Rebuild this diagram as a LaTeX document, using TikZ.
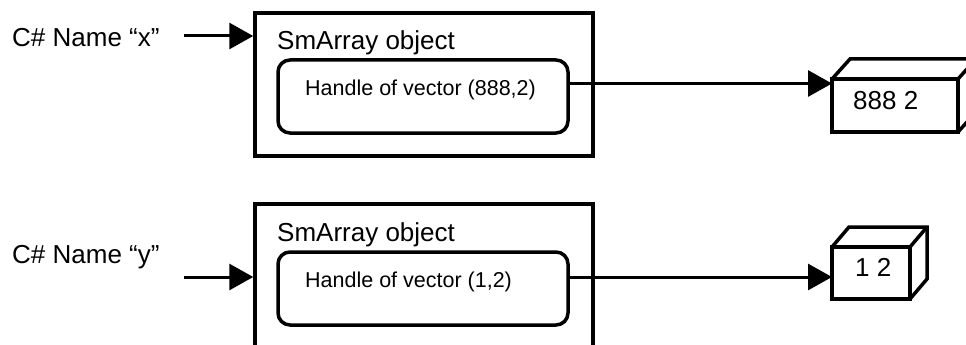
\documentclass[tikz,border=0pt]{standalone}
\usepackage{fontspec}
\setmainfont{Liberation Sans}
\usetikzlibrary{arrows.meta,calc}
\begin{document}
\begin{tikzpicture}[x=1pt,y=-1pt,
  outerbox/.style={draw,line width=3.5pt,minimum width=338pt,inner sep=0pt},
  innerbox/.style={draw,line width=3.5pt,rounded corners=12pt,minimum width=290pt,minimum height=73pt,inner sep=0pt},
  face/.style={draw,line width=3.5pt,inner sep=0pt,outer sep=0pt},
  cubeline/.style={line width=3.5pt,line join=miter},
  arr/.style={line width=3pt,-{Triangle[length=24pt,width=26pt]}},
  big/.style={font=\fontsize{26}{30}\selectfont,inner sep=0pt,anchor=base west},
  small/.style={font=\fontsize{21.5}{25}\selectfont,inner sep=0pt,anchor=base west}]
\useasboundingbox (0,0) rectangle (966,345);
\clip (0,0) rectangle (966,345);
% ---- top row
\node[big] (nx) at (12,47) {C\# Name “x”};
\node[outerbox,minimum height=143pt] (ox) at (424,84.5) {};
\node[big] (tx) at (277,49) {SmArray object};
\node[innerbox] (ix) at (423,96.5) {};
\node[small] (hx) at (305,95) {Handle of vector (888,2)};
\node[face,minimum width=126pt,minimum height=53pt] (cx) at (895,105.5) {};
\node[big] (vx) at (853,109) {888 2};
\draw[cubeline] (cx.north west) -- ++(18,-20) -- ++(126,0) -- ++(0,53) -- (cx.south east);
\draw[cubeline] (cx.north east) -- ++(18,-20);
\coordinate (sx) at (184,36);
\draw[arr] (sx) -- (ox.west |- sx);
\coordinate (lx) at (0,83.5);
\draw[arr] (ix.east |- lx) -- (cx.west |- lx);
% ---- bottom row
\node[big] (ny) at (12,263) {C\# Name “y”};
\node[outerbox,minimum height=160pt] (oy) at (424,284) {};
\node[big] (ty) at (277,241) {SmArray object};
\node[innerbox] (iy) at (423,288.5) {};
\node[small] (hy) at (305,287) {Handle of vector (1,2)};
\node[face,minimum width=78pt,minimum height=52pt] (cy) at (871,273) {};
\node[big] (vy) at (855,276) {1 2};
\draw[cubeline] (cy.north west) -- ++(17,-20) -- ++(78,0) -- ++(0,52) -- (cy.south east);
\draw[cubeline] (cy.north east) -- ++(17,-20);
\coordinate (sy) at (184,277);
\draw[arr] (sy) -- (oy.west |- sy);
\coordinate (ly) at (0,277);
\draw[arr] (iy.east |- ly) -- (cy.west |- ly);
\end{tikzpicture}
\end{document}
